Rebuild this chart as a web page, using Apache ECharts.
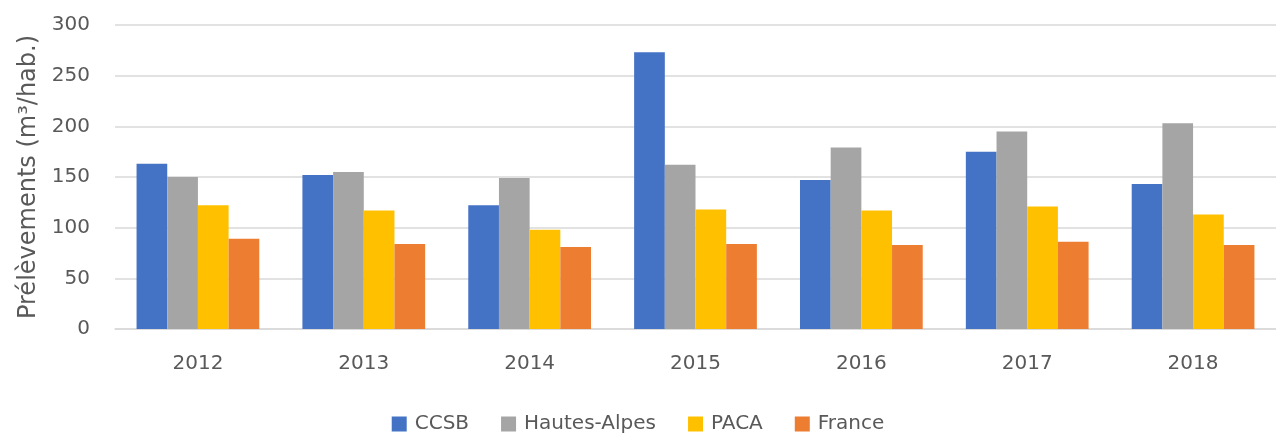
<!DOCTYPE html>
<html>
<head>
<meta charset="utf-8">
<script src="https://cdn.jsdelivr.net/npm/echarts@6/dist/echarts.min.js"></script>
<style>
  html, body { margin: 0; padding: 0; background: #fff; }
  #chart { width: 1276px; height: 434px; }
</style>
</head>
<body>
<div id="chart"></div>
<script>
// années
var years = ['2012', '2013', '2014', '2015', '2016', '2017', '2018'];
// prélèvements en m3/hab.
var ccsb = [163, 152, 122, 273, 147, 175, 143];
var hautesAlpes = [150, 155, 149, 162, 179, 195, 203];
var paca = [122, 117, 98, 118, 117, 121, 113];
var france = [89, 84, 81, 84, 83, 86, 83];
var yTicks = [0, 50, 100, 150, 200, 250, 300];

var font = '"DejaVu Sans", sans-serif';
var txt = '#595959';

function bar(name, data, color) {
    return {
        name: name,
        type: 'bar',
        data: data,
        barGap: '0%',
        barCategoryGap: '26%',
        itemStyle: { color: color }
    };
}

var chart = echarts.init(document.getElementById('chart'));
var option = {
    animation: false,
    backgroundColor: '#fff',
    textStyle: { fontFamily: font },
    grid: { left: 115, right: 0, top: 25, bottom: 105 },
    legend: {
        top: 414,
        left: 'center',
        padding: 0,
        itemWidth: 15,
        itemHeight: 15,
        itemGap: 32,
        icon: 'rect',
        textStyle: { fontSize: 20, color: txt, fontFamily: font, padding: [0, 0, 0, 3] },
        data: ['CCSB', 'Hautes-Alpes', 'PACA', 'France']
    },
    xAxis: {
        type: 'category',
        data: years,
        axisLine: { lineStyle: { color: '#d9d9d9', width: 1.5 } },
        axisTick: { show: false },
        axisLabel: { fontSize: 20, color: txt, margin: 25 }
    },
    yAxis: {
        type: 'value',
        min: yTicks[0],
        max: yTicks[yTicks.length - 1],
        interval: 50,
        name: 'Prélèvements (m³/hab.)',
        nameLocation: 'middle',
        nameGap: 73,
        nameTextStyle: { fontSize: 24, color: txt },
        axisLine: { show: false },
        axisTick: { show: false },
        axisLabel: { fontSize: 20, color: txt, margin: 25 },
        splitLine: { lineStyle: { color: '#d9d9d9', width: 1.5 } }
    },
    series: [
        bar('CCSB', ccsb, '#4472c4'),
        bar('Hautes-Alpes', hautesAlpes, '#a5a5a5'),
        bar('PACA', paca, '#ffc000'),
        bar('France', france, '#ed7d31')
    ]
};
chart.setOption(option);
</script>
</body>
</html>
